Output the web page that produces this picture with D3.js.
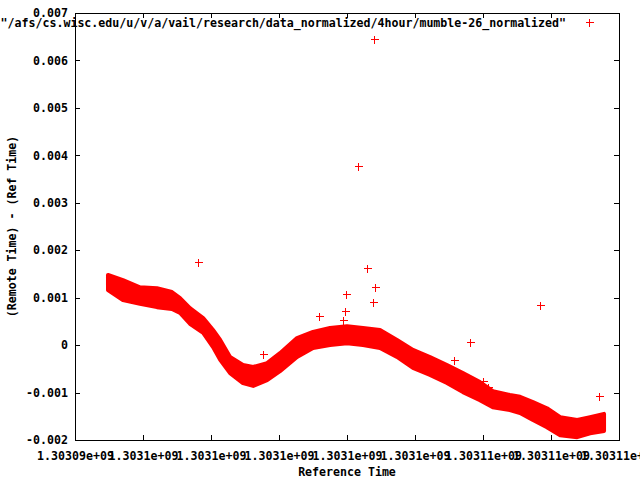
<!DOCTYPE html>
<html>
<head>
<meta charset="utf-8">
<script src="https://cdn.jsdelivr.net/npm/d3@7"></script>
<style>
  body { margin: 0; background: #fff; }
  svg { display: block; }
  text { font-family: "DejaVu Sans Mono", monospace; font-weight: bold; font-size: 11.6px; fill: #000; }
</style>
</head>
<body>
<svg id="chart" width="640" height="480"></svg>
<script>
// reference times (seconds), x tick values / labels
var xTicks = [1303094000, 1303096000, 1303098000, 1303100000, 1303102000,
              1303104000, 1303106000, 1303108000, 1303110000];
var xTickLabels = ['1.30309e+09', '1.3031e+09', '1.3031e+09', '1.3031e+09', '1.3031e+09',
                   '1.3031e+09', '1.30311e+09', '1.30311e+09', '1.30311e+09'];
var yTicks = [0.007, 0.006, 0.005, 0.004, 0.003, 0.002, 0.001, 0, -0.001, -0.002];
var yTickLabels = ['0.007', '0.006', '0.005', '0.004', '0.003', '0.002', '0.001', '0', '-0.001', '-0.002'];

// dense band of samples: time, upper and lower edge of the cloud
var bandTime = [1303094970, 1303095410, 1303095910, 1303096410, 1303096850, 1303097090,
                1303097380, 1303097770, 1303098060, 1303098270, 1303098560, 1303098940,
                1303099240, 1303099650, 1303100030, 1303100530, 1303101000, 1303101500,
                1303102000, 1303102470, 1303102970, 1303103470, 1303103940, 1303104440,
                1303104940, 1303105410, 1303105910, 1303106290, 1303106790, 1303107090,
                1303107470, 1303107880, 1303108270, 1303108770, 1303109150, 1303109560];
var bandHigh = [0.00148, 0.00137, 0.00122, 0.00120, 0.00112, 0.00099,
                0.00078, 0.00057, 0.00032, 0.00011, -0.00025, -0.00042,
                -0.00046, -0.00038, -0.00017, 0.00015, 0.00028, 0.00036,
                0.00040, 0.00036, 0.00032, 0.00011, -0.00010, -0.00025,
                -0.00042, -0.00059, -0.00078, -0.00097, -0.00105, -0.00109,
                -0.00120, -0.00133, -0.00152, -0.00158, -0.00152, -0.00145];
var bandLow = [0.00116, 0.00095, 0.00087, 0.00080, 0.00076, 0.00068,
               0.00045, 0.00026, -0.00004, -0.00031, -0.00059, -0.00080,
               -0.00086, -0.00074, -0.00055, -0.00025, -0.00006, 0.00000,
               0.00004, 0.00000, -0.00006, -0.00025, -0.00048, -0.00063,
               -0.00080, -0.00099, -0.00116, -0.00131, -0.00137, -0.00143,
               -0.00158, -0.00173, -0.00190, -0.00194, -0.00186, -0.00181];

// scattered outliers
var outTime = [1303097618, 1303099529, 1303101176, 1303101882, 1303101941, 1303101971,
               1303102324, 1303102588, 1303102765, 1303102794, 1303102824, 1303105147,
               1303105618, 1303106000, 1303106147, 1303107676, 1303109412];
var outValue = [0.00175, -0.00019, 0.00061, 0.00053, 0.00072, 0.00108,
                0.00377, 0.00162, 0.00091, 0.00645, 0.00122, -0.00031,
                0.00007, -0.00076, -0.00089, 0.00085, -0.00107];

var legendLabel = '"/afs/cs.wisc.edu/u/v/a/vail/research/data_normalized/4hour/mumble-26_normalized"';

var L = 75, R = 619, T = 13, B = 440;
var red = '#ff0000';
var svg = d3.select('#chart');

var x = d3.scaleLinear().domain([xTicks[0], xTicks[xTicks.length - 1]]).range([L, R]);
var y = d3.scaleLinear().domain([-0.002, 0.007]).range([B, T]);

// band
var band = bandTime.map(function(t, i) { return { t: t, hi: bandHigh[i], lo: bandLow[i] }; });
svg.append('path')
	.datum(band)
	.attr('fill', red)
	.attr('stroke', red)
	.attr('stroke-width', 4)
	.attr('stroke-linejoin', 'round')
	.attr('d', d3.area()
		.x(function(d) { return x(d.t); })
		.y0(function(d) { return y(d.lo); })
		.y1(function(d) { return y(d.hi); }));

function plus(g, cx, cy) {
	cx = Math.round(cx) + 0.5;
	cy = Math.round(cy) + 0.5;
	g.append('path')
		.attr('d', 'M' + (cx - 4) + ',' + cy + 'H' + (cx + 4) + 'M' + cx + ',' + (cy - 4) + 'V' + (cy + 4))
		.attr('stroke', red)
		.attr('stroke-width', 1)
		.attr('fill', 'none')
		.attr('shape-rendering', 'crispEdges');
}

var pts = svg.append('g');
outTime.forEach(function(t, i) { plus(pts, x(t), y(outValue[i])); });

// frame and ticks
var axes = svg.append('g').attr('shape-rendering', 'crispEdges');
axes.append('rect')
	.attr('x', L + 0.5).attr('y', T + 0.5)
	.attr('width', R - L).attr('height', B - T)
	.attr('fill', 'none').attr('stroke', '#000');

var xAxisB = d3.axisBottom(x).tickValues(xTicks).tickSizeInner(-5).tickSizeOuter(0)
	.tickFormat(function(d, i) { return xTickLabels[i]; });
var gxb = axes.append('g').attr('transform', 'translate(0,' + B + ')').call(xAxisB);
var gxt = axes.append('g').attr('transform', 'translate(0,' + T + ')')
	.call(d3.axisTop(x).tickValues(xTicks).tickSizeInner(-5).tickSizeOuter(0).tickFormat(''));
var yAxisL = d3.axisLeft(y).tickValues(yTicks).tickSizeInner(-5).tickSizeOuter(0)
	.tickFormat(function(d, i) { return yTickLabels[i]; });
var gyl = axes.append('g').attr('transform', 'translate(' + L + ',0)').call(yAxisL);
var gyr = axes.append('g').attr('transform', 'translate(' + R + ',0)')
	.call(d3.axisRight(y).tickValues(yTicks).tickSizeInner(-5).tickSizeOuter(0).tickFormat(''));

[gxb, gxt, gyl, gyr].forEach(function(g) {
	g.select('.domain').remove();
	g.selectAll('.tick line').attr('stroke', '#000');
	g.selectAll('text').attr('font-family', null).attr('font-size', null);
});
gxb.selectAll('text').attr('y', 12);
gyl.selectAll('text').attr('x', -7);

// axis titles
svg.append('text')
	.attr('x', (L + R) / 2).attr('y', 472).attr('dy', '0.35em')
	.attr('text-anchor', 'middle')
	.text('Reference Time');
svg.append('text')
	.attr('transform', 'translate(12,' + (T + B) / 2 + ') rotate(-90)')
	.attr('dy', '0.35em')
	.attr('text-anchor', 'middle')
	.text('(Remote Time) - (Ref Time)');

// key
svg.append('text')
	.attr('x', 566).attr('y', 23).attr('dy', '0.35em')
	.attr('text-anchor', 'end')
	.text(legendLabel);
plus(svg, 589, 22);
</script>
</body>
</html>
